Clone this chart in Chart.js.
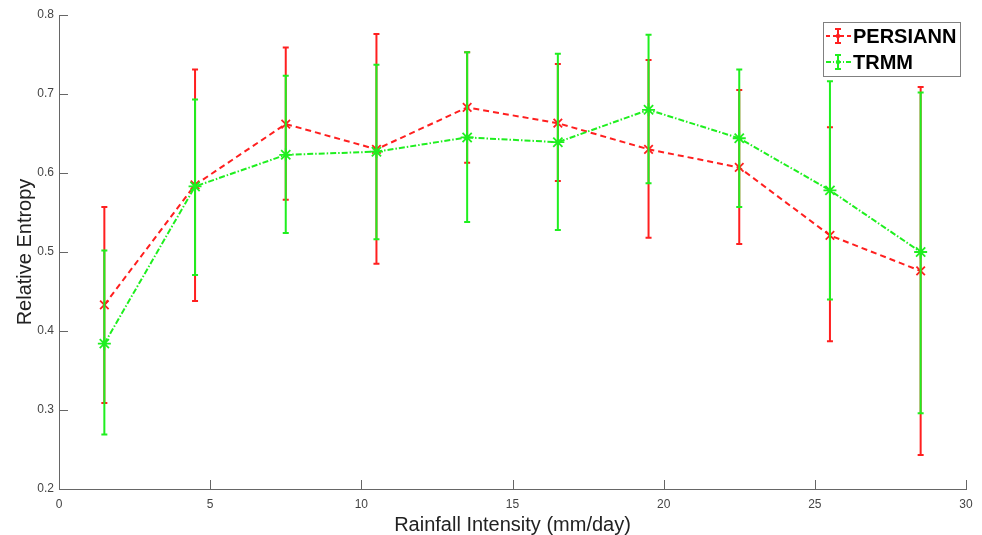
<!DOCTYPE html>
<html>
<head>
<meta charset="utf-8">
<script src="https://cdn.jsdelivr.net/npm/chart.js@4/dist/chart.umd.min.js"></script>
<style>
  html, body { margin: 0; padding: 0; background: #fff; }
  #wrap { width: 982px; height: 535px; }
</style>
</head>
<body>
<div id="wrap"><canvas id="entropyChart" width="982" height="535"></canvas></div>
<script>
// rainfall intensity bins (mm/day)
const intensity = [1.5, 4.5, 7.5, 10.5, 13.5, 16.5, 19.5, 22.5, 25.5, 28.5];

// PERSIANN relative entropy, with error bar ends
const persiannMean  = [0.433, 0.585, 0.662, 0.630, 0.683, 0.663, 0.630, 0.607, 0.521, 0.476];
const persiannUpper = [0.557, 0.731, 0.759, 0.776, 0.753, 0.738, 0.743, 0.705, 0.658, 0.709];
const persiannLower = [0.309, 0.438, 0.566, 0.485, 0.613, 0.590, 0.518, 0.510, 0.387, 0.243];

// TRMM relative entropy, with error bar ends
const trmmMean  = [0.384, 0.583, 0.623, 0.627, 0.645, 0.639, 0.680, 0.644, 0.578, 0.500];
const trmmUpper = [0.502, 0.693, 0.723, 0.737, 0.753, 0.751, 0.775, 0.731, 0.716, 0.702];
const trmmLower = [0.269, 0.471, 0.524, 0.516, 0.538, 0.528, 0.587, 0.557, 0.440, 0.296];

const xTicks = [0, 5, 10, 15, 20, 25, 30];
const yTicks = [0.2, 0.3, 0.4, 0.5, 0.6, 0.7, 0.8];

const RED = '#ff1f1f';
const GREEN = '#1fef1f';
const FONT = "'Liberation Sans', Arial, sans-serif";

function toPoints(ys) {
    return intensity.map((x, i) => ({ x: x, y: ys[i] }));
}

// error bar ends kept per dataset index
const errorBars = [
    { upper: persiannUpper, lower: persiannLower, color: RED },
    { upper: trmmUpper, lower: trmmLower, color: GREEN }
];

// draws each series' error bars just before its line, like matlab errorbar
const errorBarPlugin = {
    id: 'errorBars',
    beforeDatasetDraw(chart, args) {
        const eb = errorBars[args.index];
        if (!eb) return;
        const ctx = chart.ctx;
        const xs = chart.scales.x, ys = chart.scales.y;
        ctx.save();
        ctx.strokeStyle = eb.color;
        ctx.lineWidth = 2;
        ctx.setLineDash([]);
        intensity.forEach((x, i) => {
            const px = xs.getPixelForValue(x);
            const top = ys.getPixelForValue(eb.upper[i]);
            const bot = ys.getPixelForValue(eb.lower[i]);
            ctx.beginPath();
            ctx.moveTo(px, top); ctx.lineTo(px, bot);
            ctx.moveTo(px - 3, top); ctx.lineTo(px + 3, top);
            ctx.moveTo(px - 3, bot); ctx.lineTo(px + 3, bot);
            ctx.stroke();
        });
        ctx.restore();
    }
};

// inward tick marks + boxed legend
const axesAndLegendPlugin = {
    id: 'axesLegend',
    afterDraw(chart) {
        const ctx = chart.ctx;
        const xs = chart.scales.x, ys = chart.scales.y;
        const area = chart.chartArea;
        ctx.save();
        ctx.strokeStyle = '#666';
        ctx.lineWidth = 1;
        ctx.beginPath();
        xTicks.forEach(v => {
            const px = Math.round(xs.getPixelForValue(v)) + 0.5;
            ctx.moveTo(px, area.bottom); ctx.lineTo(px, area.bottom - 9);
        });
        yTicks.forEach(v => {
            const py = Math.round(ys.getPixelForValue(v)) + 0.5;
            ctx.moveTo(area.left, py); ctx.lineTo(area.left + 9, py);
        });
        ctx.stroke();

        // legend
        const lx = 823, ly = 22, lw = 137, lh = 54;
        ctx.fillStyle = '#fff';
        ctx.fillRect(lx, ly, lw, lh);
        ctx.strokeStyle = '#808080';
        ctx.strokeRect(lx + 0.5, ly + 0.5, lw, lh);
        const rows = [
            { label: chart.data.datasets[0].label, color: RED, dash: [4, 3], y: 36 },
            { label: chart.data.datasets[1].label, color: GREEN, dash: [5, 2, 1, 2], y: 62 }
        ];
        rows.forEach(r => {
            ctx.strokeStyle = r.color;
            ctx.lineWidth = 2;
            ctx.setLineDash(r.dash);
            ctx.beginPath();
            ctx.moveTo(826, r.y); ctx.lineTo(851, r.y);
            ctx.stroke();
            ctx.setLineDash([]);
            ctx.beginPath();
            ctx.moveTo(838, r.y - 7); ctx.lineTo(838, r.y + 7);
            ctx.moveTo(835, r.y - 7); ctx.lineTo(841, r.y - 7);
            ctx.moveTo(835, r.y + 7); ctx.lineTo(841, r.y + 7);
            ctx.stroke();
            ctx.fillStyle = r.color;
            ctx.beginPath();
            ctx.arc(838, r.y, 2.2, 0, Math.PI * 2);
            ctx.fill();
            ctx.fillStyle = '#000';
            ctx.font = 'bold 20px ' + FONT;
            ctx.textBaseline = 'middle';
            ctx.textAlign = 'left';
            ctx.fillText(r.label, 853, r.y + 1);
        });
        ctx.restore();
    }
};

const ctx = document.getElementById('entropyChart').getContext('2d');
const entropyChart = new Chart(ctx, {
    type: 'line',
    data: {
        datasets: [{
            label: 'PERSIANN',
            data: toPoints(persiannMean),
            borderColor: RED,
            borderWidth: 2,
            borderDash: [6, 4],
            pointStyle: 'crossRot',
            pointRadius: 6,
            pointBorderColor: RED,
            pointBorderWidth: 1.8,
            fill: false,
            tension: 0,
            order: 2
        }, {
            label: 'TRMM',
            data: toPoints(trmmMean),
            borderColor: GREEN,
            borderWidth: 2,
            borderDash: [6, 2, 1.5, 2],
            pointStyle: 'star',
            pointRadius: 6.5,
            pointBorderColor: GREEN,
            pointBorderWidth: 1.8,
            fill: false,
            tension: 0,
            order: 1
        }]
    },
    options: {
        responsive: false,
        animation: false,
        events: [],
        layout: { padding: { top: 15, right: 16, left: 0, bottom: 0 } },
        plugins: {
            legend: { display: false },
            tooltip: { enabled: false }
        },
        scales: {
            x: {
                type: 'linear',
                min: 0, max: 30,
                afterFit: (s) => { s.height = 46; },
                afterBuildTicks: (s) => { s.ticks = xTicks.map(v => ({ value: v })); },
                grid: { display: false, drawTicks: false },
                border: { display: true, color: '#666', width: 1 },
                ticks: { color: '#444', padding: 8, font: { family: FONT, size: 12 }, maxRotation: 0 },
                title: { display: true, text: 'Rainfall Intensity (mm/day)', color: '#222',
                         font: { family: FONT, size: 20, lineHeight: 1.0 }, padding: { top: 0, bottom: 0 } }
            },
            y: {
                min: 0.2, max: 0.8,
                afterFit: (s) => { s.width = 59; },
                afterBuildTicks: (s) => { s.ticks = yTicks.map(v => ({ value: v })); },
                grid: { display: false, drawTicks: false },
                border: { display: true, color: '#666', width: 1 },
                ticks: { color: '#444', padding: 5, font: { family: FONT, size: 12 },
                         callback: (v) => v.toFixed(1) },
                title: { display: true, text: 'Relative Entropy', color: '#222',
                         font: { family: FONT, size: 20 }, padding: { top: 13, bottom: 0 } }
            }
        }
    },
    plugins: [errorBarPlugin, axesAndLegendPlugin]
});
</script>
</body>
</html>
